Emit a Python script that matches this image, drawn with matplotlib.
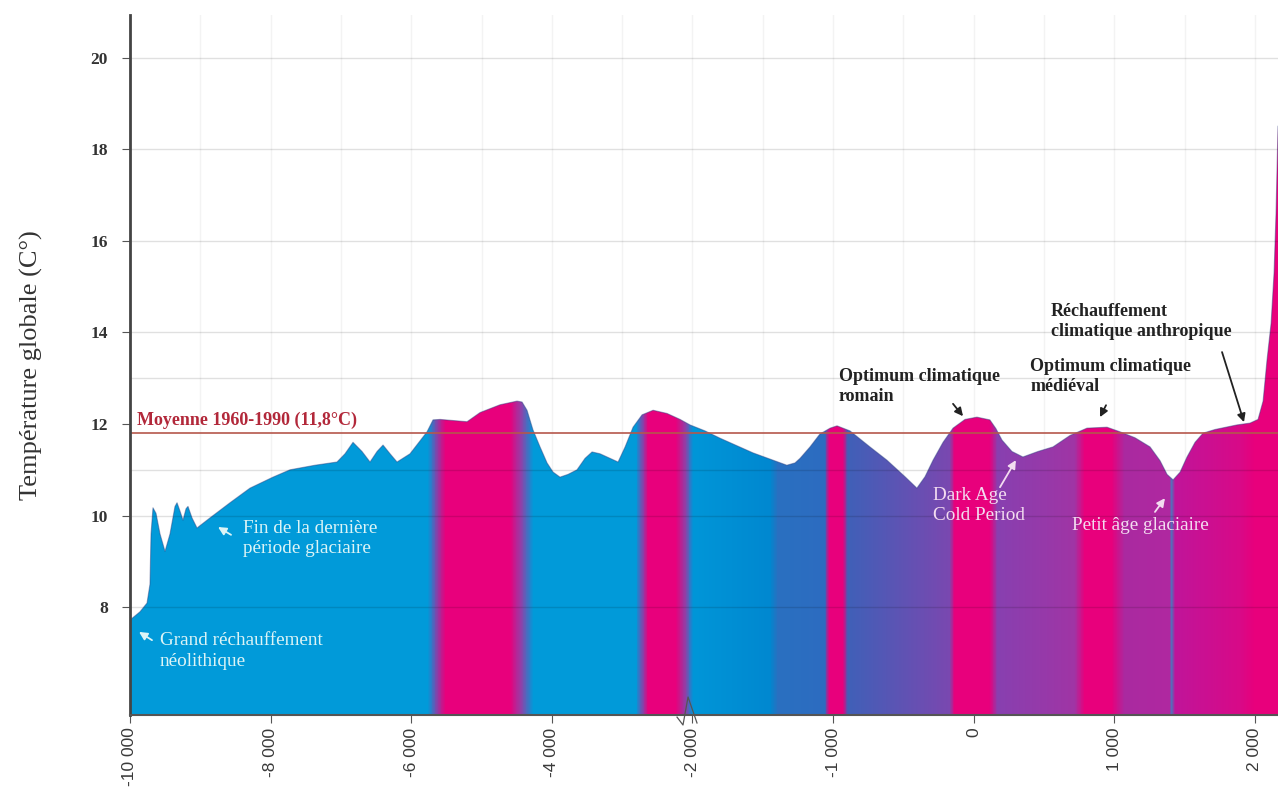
import numpy as np
import matplotlib
matplotlib.use('Agg')
import matplotlib.pyplot as plt
from matplotlib.colors import to_rgb

plt.rcParams['font.family'] = ['Liberation Serif', 'DejaVu Serif']

# temperature curve (year, global temperature in C)
years = [-10000, -9858, -9758, -9716, -9701, -9673, -9630, -9573, -9502, -9431,
         -9360, -9331, -9289, -9246, -9203, -9175, -9118, -9047, -8862, -8578,
         -8293, -7966, -7724, -7368, -7056, -6942, -6828, -6700, -6586, -6486,
         -6401, -6301, -6202, -6017, -5775, -5690, -5590, -5206, -5021, -4737,
         -4495, -4424, -4353, -4268, -4168, -4068, -3983, -3884, -3770, -3642,
         -3528, -3428, -3315, -3172, -3058, -2958, -2845, -2717, -2560, -2361,
         -2176, -2035, -1911, -1804, -1570, -1329, -1271, -1235, -1164, -1094,
         -1021, -972, -880, -738, -617, -489, -404, -346, -289, -218,
         -147, -62, 23, 115, 158, 201, 272, 350, 457, 564,
         685, 806, 948, 1040, 1147, 1254, 1325, 1375, 1418, 1468,
         1517, 1574, 1631, 1716, 1872, 1965, 2022, 2058, 2086, 2115,
         2136, 2150, 2164]
temps = [7.72, 7.9, 8.09, 8.5, 9.6, 10.17, 10.05, 9.6, 9.22, 9.6,
         10.2, 10.28, 10.1, 9.9, 10.15, 10.2, 9.95, 9.73, 9.95, 10.28,
         10.6, 10.84, 11.0, 11.1, 11.17, 11.35, 11.6, 11.4, 11.17, 11.4,
         11.54, 11.35, 11.17, 11.35, 11.83, 12.09, 12.1, 12.05, 12.25, 12.42,
         12.5, 12.48, 12.3, 11.87, 11.5, 11.15, 10.95, 10.84, 10.9, 11.0,
         11.25, 11.39, 11.35, 11.25, 11.17, 11.5, 11.93, 12.2, 12.3, 12.23,
         12.1, 11.98, 11.85, 11.69, 11.37, 11.1, 11.15, 11.25, 11.5, 11.78,
         11.91, 11.96, 11.85, 11.5, 11.21, 10.85, 10.6, 10.85, 11.21, 11.6,
         11.91, 12.1, 12.15, 12.09, 11.9, 11.65, 11.4, 11.28, 11.4, 11.5,
         11.75, 11.91, 11.93, 11.83, 11.7, 11.5, 11.2, 10.9, 10.78, 10.95,
         11.28, 11.6, 11.8, 11.88, 11.98, 12.02, 12.1, 12.5, 13.4, 14.2,
         15.3, 16.6, 18.5]

mean_1960_1990 = 11.8
x_ticks = [-10000, -8000, -6000, -4000, -2000, -1000, 0, 1000, 2000]
x_tick_labels = ['-10 000', '-8 000', '-6 000', '-4 000', '-2 000', '-1 000', '0', '1 000', '2 000']
y_ticks = [8, 10, 12, 14, 16, 18, 20]
grid_temps = [8, 10, 11, 13, 14, 16, 18, 20]
vgrid_years = [-9000, -8000, -7000, -6000, -5000, -4000, -3000, -2000, -1500, -1000,
               -500, 0, 500, 1000, 1500, 2000]

# colour of the area along time
band_years = [-10000, -5761, -5633, -5519, -4595, -4452, -4268, -2802, -2703, -2631,
              -2233, -2091, -1996, -1449, -1392, -1058, -1028, -929, -894, -169,
              -133, 115, 172, 720, 791, 983, 1076, 1396, 1410, 1432, 1894, 2000, 2164]
band_colors = ['#019ad9', '#019ad9', '#8a3fa8', '#e8007c', '#e8007c', '#9b3aa5', '#019ad9',
               '#019ad9', '#8a3fa8', '#e8007c', '#e8007c', '#8a44aa', '#0096d8', '#0088d0',
               '#2a70c0', '#2d6cc0', '#e8007c', '#e8007c', '#4060b8', '#7a48b0', '#e8007c',
               '#e8007c', '#8840b0', '#a035a5', '#e8007c', '#e8007c', '#aa2aa0', '#b028a0',
               '#4080c0', '#c0159a', '#d80a88', '#e8007c', '#e8007c']


# axis is squeezed: 2000 years per step before -2000, 1000 after
def fwd(y):
    y = np.asarray(y, dtype=float)
    return np.where(y <= -2000, (y + 10000) / 2000.0, 4 + (y + 2000) / 1000.0)


def inv(u):
    u = np.asarray(u, dtype=float)
    return np.where(u <= 4, u * 2000.0 - 10000, (u - 4) * 1000.0 - 2000)


fig = plt.figure(figsize=(12.78, 7.92), dpi=100)
ax = fig.add_axes([130 / 1278, 77 / 792, 1148 / 1278, 700 / 792])
ax.set_xscale('function', functions=(fwd, inv))

xmin, xmax = -10000, 2164
ymin, ymax = 5.646, 20.93

for yr in vgrid_years:
    ax.axvline(yr, color='#f3f3f3', lw=1, zorder=0)

fill = ax.fill_between(years, temps, ymin, facecolor='none', edgecolor='none', zorder=1)

# horizontal gradient clipped by the area
u_cols = np.linspace(fwd(xmin), fwd(xmax), 1500)
yr_cols = inv(u_cols)
rgb_stops = np.array([to_rgb(c) for c in band_colors])
img = np.stack([np.interp(yr_cols, band_years, rgb_stops[:, k]) for k in range(3)], axis=-1)[None, :, :]
im = ax.imshow(img, extent=(0, 1, 0, 1), transform=ax.transAxes, aspect='auto',
               interpolation='nearest', zorder=2)
im.set_clip_path(fill.get_paths()[0], transform=ax.transData)
ax.plot(years, temps, color='#2b3f80', lw=0.8, alpha=0.45, zorder=3)

for t in grid_temps:
    ax.axhline(t, color='black', lw=1, alpha=0.12, zorder=4)

ax.axhline(mean_1960_1990, color='#b5574c', lw=1.2, zorder=5)
ax.text(-9900, 11.98, 'Moyenne 1960-1990 (11,8°C)', color='#b2283a', fontsize=13,
        fontweight='bold', zorder=6)

ax.set_xlim(xmin, xmax)
ax.set_ylim(ymin, ymax)
ax.set_xticks(x_ticks)
ax.set_xticklabels(x_tick_labels, rotation=90, fontsize=12.5, color='#3a3a3a',
                   family=['Liberation Sans', 'DejaVu Sans'])
ax.set_yticks(y_ticks)
ax.set_yticklabels([str(v) for v in y_ticks], fontsize=12.5, fontweight='bold', color='#333333')
ax.tick_params(axis='both', direction='out', length=6, color='#555555')
ax.tick_params(axis='x', pad=3)
ax.tick_params(axis='y', pad=10)

for side in ['top', 'right']:
    ax.spines[side].set_visible(False)
ax.spines['left'].set_linewidth(2)
ax.spines['left'].set_color('#444444')
ax.spines['bottom'].set_linewidth(1.5)
ax.spines['bottom'].set_color('#555555')
ax.spines['left'].set_zorder(7)
ax.spines['bottom'].set_zorder(7)

ax.set_ylabel('Température globale (C°)', fontsize=19, color='#333333')
ax.yaxis.set_label_coords(-0.076, 0.5)

# axis break mark
ax.plot([0.4765, 0.4817, 0.4861, 0.4939], [-0.003, -0.0143, 0.0257, -0.0114],
        transform=ax.transAxes, color='#555555', lw=0.9, clip_on=False, zorder=8)

light_blue = '#dcf4f6'
light_pink = '#f3dcf0'
dark = '#222222'
notes = [
    ('Fin de la dernière\npériode glaciaire', (-8393, 9.9), (-8748, 9.75), (-8563, 9.58), light_blue, 'normal'),
    ('Grand réchauffement\nnéolithique', (-9573, 7.45), (-9872, 7.46), (-9687, 7.28), light_blue, 'normal'),
    ('Optimum climatique\nromain', (-959, 13.22), (-76, 12.17), (-147, 12.44), dark, 'bold'),
    ('Dark Age\nCold Period', (-289, 10.62), (300, 11.21), (187, 10.62), light_pink, 'normal'),
    ('Optimum climatique\nmédiéval', (401, 13.44), (898, 12.15), (941, 12.41), dark, 'bold'),
    ('Petit âge glaciaire', (700, 9.98), (1360, 10.38), (1289, 10.08), light_pink, 'normal'),
    ('Réchauffement\nclimatique anthropique', (550, 14.64), (1922, 12.04), (1766, 13.57), dark, 'bold'),
]
for label, txt_pos, head, tail, col, weight in notes:
    size = 13 if weight == 'bold' else 13.8
    ax.text(txt_pos[0], txt_pos[1], label, color=col, fontsize=size, fontweight=weight,
            va='top', ha='left', linespacing=1.25, zorder=9)
    ax.annotate('', xy=head, xytext=tail,
                arrowprops=dict(arrowstyle='-|>', color=col, lw=1.3, mutation_scale=12,
                                shrinkA=0, shrinkB=0), zorder=9)

fig.savefig('out.png', dpi=100)
